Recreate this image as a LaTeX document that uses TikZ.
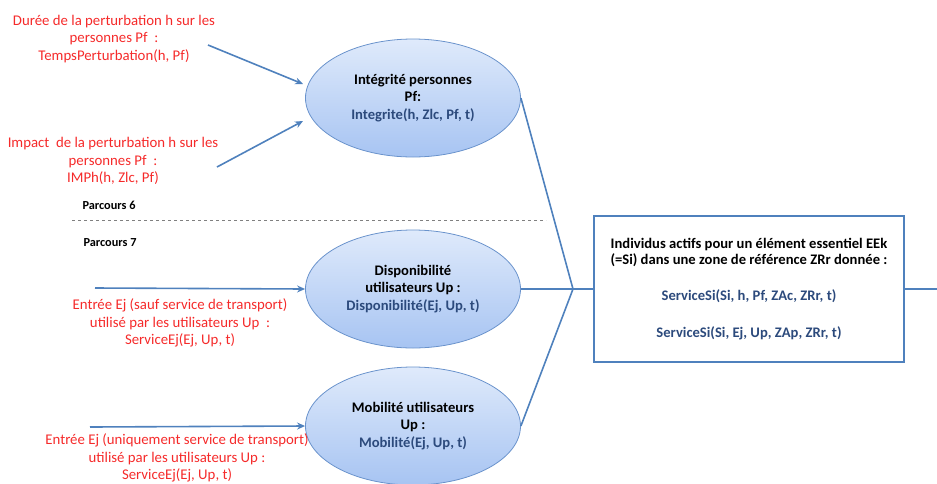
\documentclass[tikz,border=0pt]{standalone}
\usepackage{fontspec}
\setmainfont{Carlito}
\usetikzlibrary{shapes.geometric, arrows.meta}
\definecolor{lienbleu}{HTML}{4F81BD}
\definecolor{bordell}{HTML}{6A93CC}
\definecolor{hautell}{HTML}{DFEAFB}
\definecolor{basell}{HTML}{A7C4F2}
\definecolor{texbleu}{HTML}{2C4A7C}
\definecolor{rouge}{HTML}{F52A2A}

\begin{document}
\begin{tikzpicture}[x=1pt, y=-1pt,
  lien/.style={draw=lienbleu, line width=1.6pt},
  fleche/.style={lien, -{Stealth[length=8pt, width=7pt]}},
  bulle/.style={ellipse, draw=bordell, line width=0.8pt, top color=hautell,
    bottom color=basell, minimum width=215pt, minimum height=118pt, inner sep=0pt,
    align=center, font=\fontsize{14.6}{17.5}\selectfont\bfseries},
  entree/.style={align=center, text=rouge, font=\fontsize{14.8}{17.5}\selectfont},
  parcours/.style={anchor=west, font=\fontsize{12.3}{14}\selectfont\bfseries}]
  \useasboundingbox (0,0) rectangle (937,483);
  % les trois bulles
  \node[bulle] (integ) at (413,98) {Intégrité personnes\\Pf:\\
    \textcolor{texbleu}{Integrite(h, Zlc, Pf, t)}};
  \node[bulle] (dispo) at (413,289) {Disponibilité\\utilisateurs Up :\\
    \textcolor{texbleu}{Disponibilité(Ej, Up, t)}};
  \node[bulle] (mobil) at (413,426) {Mobilité utilisateurs\\Up :\\
    \textcolor{texbleu}{Mobilité(Ej, Up, t)}};
  % resultat
  \node[draw=lienbleu, line width=1.6pt, minimum width=310pt, minimum height=146pt,
    align=center, font=\fontsize{14.6}{16}\selectfont\bfseries] (serv) at (749,289)
    {Individus actifs pour un élément essentiel EEk\\
     (=Si) dans une zone de référence ZRr donnée :\\[20pt]
     \textcolor{texbleu}{ServiceSi(Si, h, Pf, ZAc, ZRr, t)}\\[21pt]
     \textcolor{texbleu}{ServiceSi(Si, Ej, Up, ZAp, ZRr, t)}};
  % entrees
  \node[entree] (duree) at (114,39) {Durée de la perturbation h sur les\\
    personnes Pf \ :\\TempsPerturbation(h, Pf)};
  \node[entree] (impact) at (113,161) {Impact \ de la perturbation h sur les\\
    personnes Pf \ :\\IMPh(h, Zlc, Pf)};
  \node[entree] (ejsauf) at (180,323) {Entrée Ej (sauf service de transport)\\
    utilisé par les utilisateurs Up \ :\\ServiceEj(Ej, Up, t)};
  \node[entree] (ejtrans) at (177,458) {Entrée Ej (uniquement service de transport)\\
    utilisé par les utilisateurs Up :\\ServiceEj(Ej, Up, t)};
  \coordinate (d1) at (208,45);
  \coordinate (i1) at (217,167);
  \coordinate (e1) at (95,288);
  \coordinate (e2) at (90,427);
  \draw[fleche] (d1) -- (303,84);
  \draw[fleche] (i1) -- (303,121);
  \draw[fleche] (e1) -- (dispo.west);
  \draw[fleche] (e2) -- (mobil.west);
  % jonction
  \coordinate (J) at (573,289);
  \coordinate (sortie) at (937,289);
  \draw[lien] (integ.east) -- (J);
  \draw[lien] (dispo.east) -- (J);
  \draw[lien] (mobil.east) -- (J);
  \draw[lien] (J) -- (serv.west);
  \draw[lien] (serv.east) -- (sortie);
  % separation des parcours
  \coordinate (sepg) at (72,220);
  \coordinate (sepd) at (546,220);
  \draw[gray, dashed, line width=0.8pt] (sepg) -- (sepd);
  \node[parcours] (p6) at (79,205) {Parcours 6};
  \node[parcours] (p7) at (80,243) {Parcours 7};
\end{tikzpicture}
\end{document}
